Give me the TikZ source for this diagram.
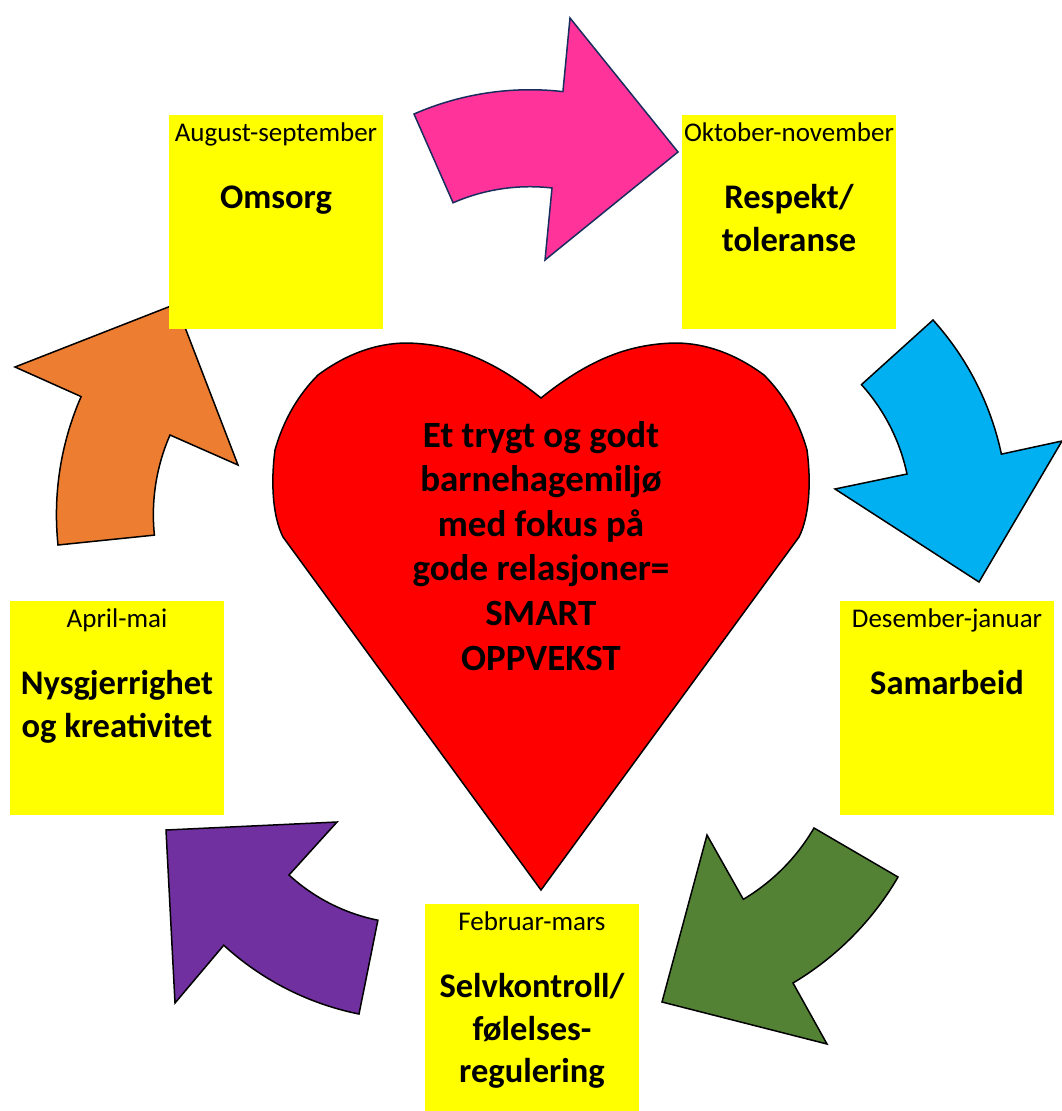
\documentclass[tikz,border=0pt]{standalone}
\usepackage{fontspec}
\setmainfont{Carlito}
\usetikzlibrary{positioning}
\usepackage{xcolor}
\definecolor{noteyellow}{RGB}{255,255,0}
\definecolor{heartred}{RGB}{255,0,0}
\definecolor{arrowpink}{RGB}{255,51,153}
\definecolor{pinkline}{RGB}{25,45,95}
\definecolor{arrowblue}{RGB}{0,176,240}
\definecolor{arrowgreen}{RGB}{84,130,53}
\definecolor{arrowpurple}{RGB}{112,48,160}
\definecolor{arroworange}{RGB}{237,125,49}

\begin{document}
\begin{tikzpicture}[x=1pt, y=-1pt,
    monthbox/.style={rectangle, fill=noteyellow, minimum width=214pt, minimum height=214pt, inner sep=0pt},
    month/.style={anchor=base, text width=212pt, align=flush center, inner sep=0pt, font=\fontsize{27}{32}\selectfont},
    theme/.style={anchor=base, text width=212pt, align=flush center, inner sep=0pt, font=\fontsize{34.5}{42.5}\selectfont\bfseries},
    bentarrow/.style={draw=black, line width=1.5pt, line join=miter}]
    \useasboundingbox (0,0) rectangle (1061,1111);

    \filldraw[bentarrow, fill=arrowpink, draw=pinkline] (414,114) arc[start angle=-113.6, end angle=-83.5, radius=290] -- (570,18) -- (678,152) -- (545,260) -- (552,188) arc[start angle=-83.4, end angle=-113.6, radius=192] -- cycle;
    \filldraw[bentarrow, fill=arrowblue] (861,385) -- (933,320) arc[start angle=-42.06, end angle=-11.97, radius=290] -- (1062,441) -- (979,582) -- (835,489) -- (907,474) arc[start angle=-11.95, end angle=-42.05, radius=193] -- cycle;
    \filldraw[bentarrow, fill=arrowgreen] (898,877) -- (814,828) arc[start angle=30.26, end angle=59.24, radius=200.7] -- (707,835) -- (662,1002) -- (827,1044) -- (793,983) arc[start angle=59.24, end angle=30.26, radius=298] -- cycle;
    \filldraw[bentarrow, fill=arrowpurple] (166,830) -- (337,822) -- (289,875) arc[start angle=132.5, end angle=101.4, radius=186] -- (359,1014) arc[start angle=101.4, end angle=132.5, radius=283] -- (175,1003) -- cycle;
    \filldraw[bentarrow, fill=arroworange] (176,304) -- (238,465) -- (170,435) arc[start angle=203.6, end angle=174.1, radius=199] -- (58,545) arc[start angle=174.1, end angle=203.6, radius=295] -- (15,367) -- cycle;

    \filldraw[bentarrow, fill=heartred] (541,890) -- (283,537) .. controls (272,515) and (271,480) .. (275,450) .. controls (284,418) and (300,393) .. (318,375) .. controls (345,355) and (375,343) .. (407,343) .. controls (450,344) and (490,357) .. (541,398) .. controls (592,357) and (632,344) .. (675,343) .. controls (707,343) and (737,355) .. (764,375) .. controls (782,393) and (798,418) .. (807,450) .. controls (811,480) and (810,515) .. (799,537) -- cycle;
    \node[theme, text width=320pt, font=\fontsize{37}{44.6}\selectfont\bfseries] (heartlabel) at (541,447) {Et trygt og godt\\barnehagemiljø\\med fokus på\\gode relasjoner=\\SMART\\OPPVEKST};

    \node[monthbox] (aug) at (276,222) {};
    \node[monthbox] (okt) at (789,222) {};
    \node[monthbox] (des) at (947,708) {};
    \node[monthbox] (feb) at (532,1011) {};
    \node[monthbox] (apr) at (117,708) {};

    \node[month] (augmonth) at ([yshift=-27pt]aug.north) {August-september};
    \node[theme] (augtheme) at ([yshift=-94pt]aug.north) {Omsorg};
    \node[month] (oktmonth) at ([yshift=-27pt]okt.north) {Oktober-november};
    \node[theme] (okttheme) at ([yshift=-94pt]okt.north) {Respekt/\\toleranse};
    \node[month] (desmonth) at ([yshift=-27pt]des.north) {Desember-januar};
    \node[theme] (destheme) at ([yshift=-94pt]des.north) {Samarbeid};
    \node[month] (febmonth) at ([yshift=-27pt]feb.north) {Februar-mars};
    \node[theme] (febtheme) at ([yshift=-94pt]feb.north) {Selvkontroll/\\følelses-\\regulering};
    \node[month] (aprmonth) at ([yshift=-27pt]apr.north) {April-mai};
    \node[theme] (aprtheme) at ([yshift=-94pt]apr.north) {Nysgjerrighet\\og kreativitet};
\end{tikzpicture}
\end{document}
